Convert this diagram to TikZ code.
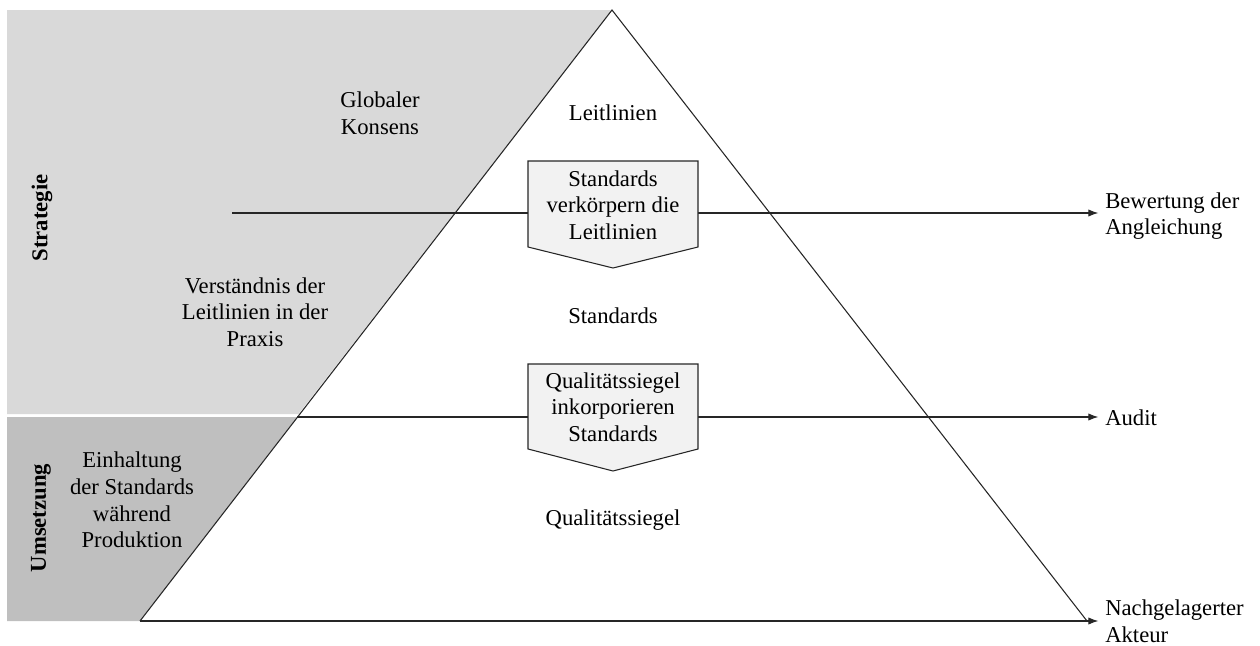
\documentclass[tikz,border=0pt]{standalone}
\usepackage{fontspec}
\setmainfont{Liberation Serif}
\usetikzlibrary{arrows.meta}
\definecolor{lightband}{HTML}{D9D9D9}
\definecolor{darkband}{HTML}{BFBFBF}
\definecolor{boxfill}{HTML}{F2F2F2}
\begin{document}
\begin{tikzpicture}[x=0.75pt,y=-0.75pt,
  txt/.style={font=\fontsize{17}{20}\selectfont, align=center, inner sep=0pt},
  side/.style={txt, align=left, anchor=west},
  band/.style={txt, font=\fontsize{17}{20}\selectfont\bfseries, rotate=90},
  edge/.style={draw=black!85, line width=0.8pt},
  flow/.style={edge, -{Latex[length=7.5pt,width=5.5pt]}, shorten >=5pt},
  pbox/.style={edge, fill=boxfill}]
\useasboundingbox (0,0) rectangle (1260,646);

% shaded bands on the left
\fill[lightband] (7,10) -- (612,10) -- (298.5,414) -- (7,414) -- cycle;
\fill[darkband] (7,417) -- (297,417) -- (140,621) -- (7,621) -- cycle;

% pyramid corners
\coordinate (apex) at (612,10);
\coordinate (bl) at (140,621);
\coordinate (br) at (1087,621);
\coordinate (s1) at (232,213);
\coordinate (s2) at (297,417);

% right-hand labels
\node[side] (bew) at (1105,216) {Bewertung der\\Angleichung};
\node[side] (aud) at (1105,418) {Audit};
\node[side] (akt) at (1105,621) {Nachgelagerter\\Akteur};

% pyramid sides
\draw[edge] (bl) -- (apex) -- (br);

% horizontal arrows
\draw[flow] (s1) -- (s1 -| bew.west);
\draw[flow] (s2) -- (s2 -| aud.west);
\draw[flow] (bl) -- (bl -| akt.west);

% pointed boxes
\draw[pbox] (528,161) -- (698,161) -- (698,247) -- (613,268) -- (528,247) -- cycle;
\draw[pbox] (528,364) -- (698,364) -- (698,449) -- (613,471) -- (528,449) -- cycle;

% texts
\node[txt] (glob) at (380,113) {Globaler\\Konsens};
\node[txt] (leit) at (613,113) {Leitlinien};
\node[txt] (b1) at (613,205) {Standards\\verkörpern die\\Leitlinien};
\node[txt] (std) at (613,316) {Standards};
\node[txt] (b2) at (613,407) {Qualitätssiegel\\inkorporieren\\Standards};
\node[txt] (qs) at (613,520) {Qualitätssiegel};
\node[txt] (vers) at (255,312) {Verständnis der\\Leitlinien in der\\Praxis};
\node[txt] (einh) at (132,500) {Einhaltung\\der Standards\\während\\Produktion};
\node[band] (strat) at (42,218) {Strategie};
\node[band] (ums) at (41,518) {Umsetzung};
\end{tikzpicture}
\end{document}
